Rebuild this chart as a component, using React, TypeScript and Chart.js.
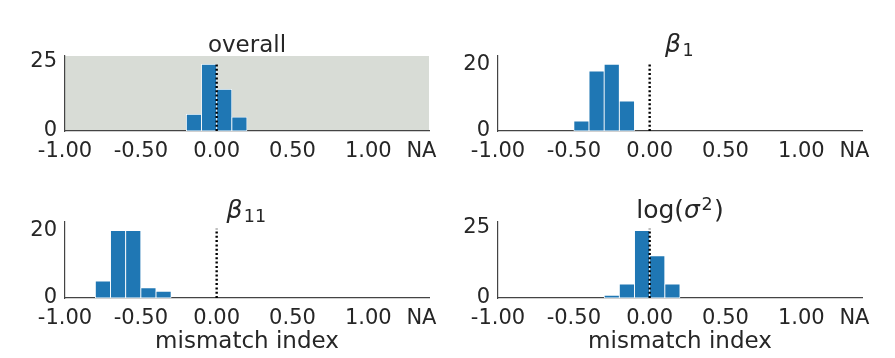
import React, { useEffect, useRef } from 'react';
import { Chart, registerables } from 'chart.js';

Chart.register(...registerables);

// ---- data ----
const xTickValues = [-1, -0.5, 0, 0.5, 1, 1.35];
const xTickLabels = ['-1.00', '-0.50', '0.00', '0.50', '1.00', 'NA'];
const xMin = -1.0;
const xMax = 1.4;

const overallBins = [-0.15, -0.05, 0.05, 0.15];
const overallCounts = [6, 24, 15, 5];

const beta1Bins = [-0.45, -0.35, -0.25, -0.15];
const beta1Counts = [3, 18, 20, 9];

const beta11Bins = [-0.75, -0.65, -0.55, -0.45, -0.35];
const beta11Counts = [5, 20, 20, 3, 2];

const logSigmaBins = [-0.25, -0.15, -0.05, 0.05, 0.15];
const logSigmaCounts = [1, 5, 24, 15, 5];

const yTicksOverall = [0, 25];
const yTicksBeta1 = [0, 20];
const yTicksBeta11 = [0, 20];
const yTicksLogSigma = [0, 25];

const yMaxes = [27, 22.5, 22.5, 27];
const refLineX = 0;
const refLineTops = [24.6, 20.5, 20.5, 24.6];

type Seg = { t: string; italic?: boolean; pos?: 'sub' | 'sup' };
const titleOverall: Seg[] = [{ t: 'overall' }];
const titleBeta1: Seg[] = [{ t: 'β', italic: true }, { t: '1', pos: 'sub' }];
const titleBeta11: Seg[] = [{ t: 'β', italic: true }, { t: '11', pos: 'sub' }];
const titleLogSigma: Seg[] = [{ t: 'log(' }, { t: 'σ', italic: true }, { t: '2', pos: 'sup' }, { t: ')' }];
const xAxisLabel = 'mismatch index';

// ---- styles ----
const FAMILY = "'DejaVu Sans'";
const TEXT = '#262626';
const BAR = '#1f77b4';
const SHADE = '#d8dcd6';
const SPINE = '#444444';

type Area = { left: number; right: number; top: number; bottom: number };

type PanelProps = {
  left: number;
  top: number;
  width: number;
  height: number;
  area: Area;
  bins: number[];
  counts: number[];
  yTicks: number[];
  yMax: number;
  lineTop: number;
  title: Seg[];
  math?: boolean;
  xlabel?: string;
  shaded?: boolean;
};

function Panel(p: PanelProps) {
  const ref = useRef<HTMLCanvasElement | null>(null);
  useEffect(() => {
    const canvas = ref.current!;
    const bgPlugin = {
      id: 'bgShade',
      beforeDraw(chart: any) {
        if (!p.shaded) return;
        const { ctx, chartArea: a } = chart;
        ctx.save();
        ctx.fillStyle = SHADE;
        ctx.fillRect(a.left, a.top, a.right - a.left, a.bottom - a.top);
        ctx.restore();
      },
    };
    const titlePlugin = {
      id: 'mathTitle',
      afterDraw(chart: any) {
        const { ctx, chartArea: a } = chart;
        const main = p.math ? 25 : 23;
        const small = 17.5;
        const gap = 1.5;
        const fontFor = (s: Seg) =>
          `${s.italic ? 'italic ' : ''}${s.pos ? small : main}px ${FAMILY}`;
        ctx.save();
        ctx.fillStyle = TEXT;
        ctx.textBaseline = 'alphabetic';
        ctx.textAlign = 'left';
        const widths = p.title.map((s) => {
          ctx.font = fontFor(s);
          return ctx.measureText(s.t).width + (s.pos ? 2 * gap : 0);
        });
        const total = widths.reduce((u, v) => u + v, 0);
        let x = (a.left + a.right) / 2 - total / 2;
        const base = a.top - 4.5;
        p.title.forEach((s, i) => {
          ctx.font = fontFor(s);
          const dy = s.pos === 'sub' ? 4 : s.pos === 'sup' ? -8 : 0;
          ctx.fillText(s.t, x + (s.pos ? gap : 0), base + dy);
          x += widths[i];
        });
        ctx.restore();
      },
    };
    const chart = new Chart(canvas, {
      type: 'bar',
      data: {
        datasets: [
          {
            type: 'line',
            data: [
              { x: refLineX, y: 0 },
              { x: refLineX, y: p.lineTop },
            ],
            borderColor: '#000000',
            borderWidth: 2.4,
            borderDash: [2, 2.3],
            pointRadius: 0,
            order: 0,
          } as any,
          {
            type: 'bar',
            data: p.bins.map((b, i) => ({ x: b, y: p.counts[i] })),
            backgroundColor: BAR,
            borderColor: '#ffffff',
            borderWidth: 0.8,
            borderSkipped: false,
            barPercentage: 1,
            categoryPercentage: 1,
            order: 1,
          } as any,
        ],
      },
      options: {
        responsive: false,
        animation: false,
        devicePixelRatio: 1,
        events: [],
        layout: {
          padding: { left: 0, top: p.area.top, right: p.width - p.area.right, bottom: 0 },
        },
        plugins: {
          legend: { display: false },
          tooltip: { enabled: false },
          title: { display: false },
        },
        scales: {
          x: {
            type: 'linear',
            min: xMin,
            max: xMax,
            offset: false,
            z: 1,
            grid: { display: false, drawTicks: false },
            border: { display: true, color: SPINE, width: 1.2 },
            ticks: {
              autoSkip: false,
              maxRotation: 0,
              minRotation: 0,
              padding: 7.5,
              color: TEXT,
              font: { family: FAMILY, size: 21 },
              callback: (_v: any, i: number) => xTickLabels[i],
            },
            title: {
              display: !!p.xlabel,
              text: p.xlabel || '',
              color: TEXT,
              font: { family: FAMILY, size: 23 },
              padding: { top: 0, bottom: 2 },
            },
            afterBuildTicks: (s: any) => {
              s.ticks = xTickValues.map((v) => ({ value: v }));
            },
            afterFit: (s: any) => {
              s.height = p.height - p.area.bottom;
            },
          } as any,
          y: {
            type: 'linear',
            min: 0,
            max: p.yMax,
            z: 1,
            grid: { display: false, drawTicks: false },
            border: { display: true, color: SPINE, width: 1.2 },
            ticks: {
              padding: 8,
              color: TEXT,
              font: { family: FAMILY, size: 21 },
            },
            afterBuildTicks: (s: any) => {
              s.ticks = p.yTicks.map((v) => ({ value: v }));
            },
            afterFit: (s: any) => {
              s.width = p.area.left;
            },
          } as any,
        },
      },
      plugins: [bgPlugin, titlePlugin],
    });
    return () => chart.destroy();
  }, []);
  return (
    <canvas
      ref={ref}
      width={p.width}
      height={p.height}
      style={{ position: 'absolute', left: p.left, top: p.top, width: p.width, height: p.height }}
    />
  );
}

export default function App() {
  const topArea: Area = { left: 65, right: 429, top: 56, bottom: 131 };
  const topAreaR: Area = { left: 51, right: 415, top: 56, bottom: 131 };
  const botArea: Area = { left: 65, right: 429, top: 47, bottom: 123 };
  const botAreaR: Area = { left: 51, right: 415, top: 47, bottom: 123 };
  return (
    <div style={{ position: 'fixed', left: 0, top: 0, width: 895, height: 358, background: '#ffffff', overflow: 'hidden' }}>
      <Panel left={0} top={0} width={447} height={175} area={topArea} bins={overallBins} counts={overallCounts}
        yTicks={yTicksOverall} yMax={yMaxes[0]} lineTop={refLineTops[0]} title={titleOverall} shaded />
      <Panel left={447} top={0} width={448} height={175} area={topAreaR} bins={beta1Bins} counts={beta1Counts}
        yTicks={yTicksBeta1} yMax={yMaxes[1]} lineTop={refLineTops[1]} title={titleBeta1} math />
      <Panel left={0} top={175} width={447} height={183} area={botArea} bins={beta11Bins} counts={beta11Counts}
        yTicks={yTicksBeta11} yMax={yMaxes[2]} lineTop={refLineTops[2]} title={titleBeta11} math xlabel={xAxisLabel} />
      <Panel left={447} top={175} width={448} height={183} area={botAreaR} bins={logSigmaBins} counts={logSigmaCounts}
        yTicks={yTicksLogSigma} yMax={yMaxes[3]} lineTop={refLineTops[3]} title={titleLogSigma} math xlabel={xAxisLabel} />
    </div>
  );
}
